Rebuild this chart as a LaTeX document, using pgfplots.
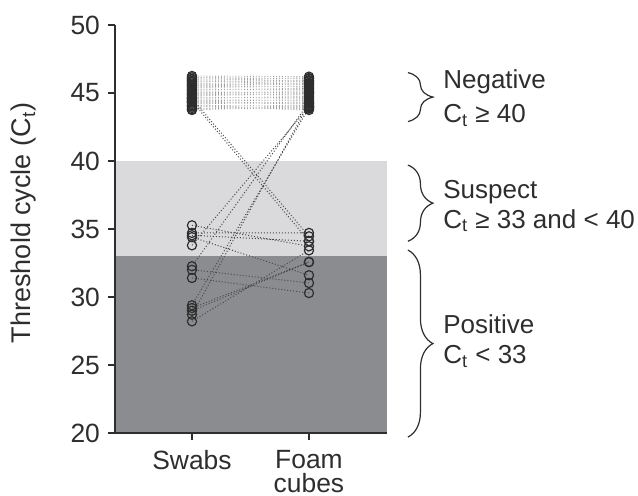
\documentclass[border=0pt]{standalone}
\usepackage{pgfplots}
\pgfplotsset{compat=1.18}
\usepackage{fontspec}
\setmainfont{Liberation Sans}
\usetikzlibrary{decorations.pathreplacing}
\definecolor{txt}{HTML}{2E2E2E}
\definecolor{lightband}{HTML}{DADADC}
\definecolor{darkband}{HTML}{8B8C8F}
\definecolor{negline}{HTML}{A0A0A0}
\definecolor{crossline}{HTML}{4A4A4A}
\begin{document}
\begin{tikzpicture}
\begin{axis}[
  name=ax,
  at={(0pt,0pt)}, anchor=south west,
  scale only axis, width=136pt, height=204pt,
  xmin=-0.658, xmax=1.667, ymin=20, ymax=50,
  axis x line*=bottom, axis y line*=left,
  axis line style={txt, line width=0.8pt, -},
  tick align=outside, major tick length=3.5pt,
  tick style={txt, line width=0.8pt},
  xtick={0,1}, xticklabels={Swabs,{Foam\\cubes}},
  ytick={20,25,...,50},
  /pgf/number format/assume math mode=true,
  tick label style={font=\fontsize{13.2}{12}\selectfont, text=txt},
  yticklabel style={xshift=-0.5pt},
  xticklabel style={align=center, anchor=north, yshift=-1.5pt},
  ylabel={Threshold cycle (C\textsubscript{t})},
  ylabel style={at={(axis description cs:-0.287,0.515)}, anchor=south, inner sep=0pt, font=\fontsize{13.5}{15}\selectfont, text=txt},
  clip=false,
  unbounded coords=jump,
  axis on top,
]
% bands
\addplot[fill=darkband, draw=none] coordinates {(-0.658,20) (1.667,20) (1.667,33) (-0.658,33)};
\addplot[fill=lightband, draw=none] coordinates {(-0.658,33) (1.667,33) (1.667,40) (-0.658,40)};
% negative pairs
\addplot[negline, densely dotted, line width=0.45pt, mark=o, mark size=2.3pt, mark options={solid, draw=txt, line width=0.6pt}] coordinates {
(0,46.25)(1,46.2) (0,nan)
(0,46.15)(1,46.05) (0,nan)
(0,46.0)(1,46.1) (0,nan)
(0,45.9)(1,45.85) (0,nan)
(0,45.8)(1,45.95) (0,nan)
(0,45.7)(1,45.6) (0,nan)
(0,45.6)(1,45.75) (0,nan)
(0,45.5)(1,45.45) (0,nan)
(0,45.4)(1,45.5) (0,nan)
(0,45.3)(1,45.2) (0,nan)
(0,45.2)(1,45.35) (0,nan)
(0,45.1)(1,45.0) (0,nan)
(0,45.0)(1,45.1) (0,nan)
(0,44.9)(1,44.85) (0,nan)
(0,44.8)(1,44.95) (0,nan)
(0,44.7)(1,44.6) (0,nan)
(0,44.6)(1,44.75) (0,nan)
(0,44.5)(1,44.45) (0,nan)
(0,44.4)(1,44.5) (0,nan)
(0,44.3)(1,44.2) (0,nan)
(0,44.2)(1,44.35) (0,nan)
(0,44.1)(1,44.0) (0,nan)
(0,44.0)(1,44.1) (0,nan)
(0,43.9)(1,43.85) (0,nan)
(0,43.8)(1,43.95) (0,nan)
(0,46.05)(1,45.9) (0,nan)
(0,45.85)(1,45.7) (0,nan)
(0,45.55)(1,45.65) (0,nan)
(0,45.25)(1,45.3) (0,nan)
(0,44.95)(1,45.05) (0,nan)
(0,44.65)(1,44.7) (0,nan)
(0,44.35)(1,44.25) (0,nan)
(0,44.05)(1,43.75) (0,nan)
(0,43.75)(1,44.05)
};
% crossing pairs
\addplot[crossline, densely dotted, line width=0.5pt, mark=o, mark size=2.3pt, mark options={solid, draw=txt, line width=0.6pt}] coordinates {
(0,35.27)(1,33.73) (0,nan)
(0,34.71)(1,34.71) (0,nan)
(0,34.54)(1,34.10) (0,nan)
(0,34.40)(1,31.60) (0,nan)
(0,33.80)(1,44.0) (0,nan)
(0,32.26)(1,44.3) (0,nan)
(0,32.0)(1,31.03) (0,nan)
(0,31.4)(1,30.29) (0,nan)
(0,29.39)(1,43.9) (0,nan)
(0,29.19)(1,32.57) (0,nan)
(0,28.99)(1,32.57) (0,nan)
(0,28.70)(1,44.2) (0,nan)
(0,28.21)(1,33.43) (0,nan)
(0,44.6)(1,34.46) (0,nan)
(0,44.4)(1,34.10)
};
% braces and category notes
\draw[txt, line width=0.6pt, decorate, decoration={brace, amplitude=12.5pt}] (axis cs:1.846,46.5) -- (axis cs:1.846,42.9);
\draw[txt, line width=0.6pt, decorate, decoration={brace, amplitude=12.5pt}] (axis cs:1.846,39.7) -- (axis cs:1.846,34.1);
\draw[txt, line width=0.6pt, decorate, decoration={brace, amplitude=12.5pt}] (axis cs:1.846,33.45) -- (axis cs:1.846,19.7);
\node[anchor=west, inner sep=0pt, align=left, text=txt, font=\fontsize{13}{17}\selectfont] at (axis cs:2.145,44.63) {Negative\\C\textsubscript{t} ≥ 40};
\node[anchor=west, inner sep=0pt, align=left, text=txt, font=\fontsize{13}{15}\selectfont] at (axis cs:2.145,36.7) {Suspect\\C\textsubscript{t} ≥ 33 and < 40};
\node[anchor=west, inner sep=0pt, align=left, text=txt, font=\fontsize{13}{15}\selectfont] at (axis cs:2.145,26.75) {Positive\\C\textsubscript{t} < 33};
\coordinate (BL) at (rel axis cs:0,0);
\end{axis}
\pgfresetboundingbox
\useasboundingbox ([shift={(-57.5pt,-31.5pt)}]BL) rectangle ([shift={(261.5pt,216.5pt)}]BL);
\end{tikzpicture}
\end{document}
